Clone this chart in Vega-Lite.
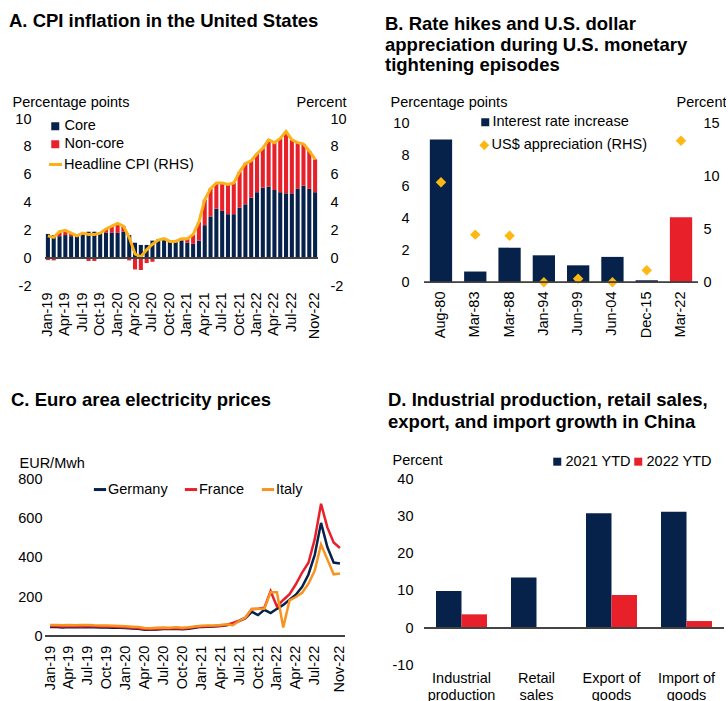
{
  "$schema": "https://vega.github.io/schema/vega-lite/v6.json",
  "background": "white",
  "padding": {"left": 9, "top": 12, "right": 0, "bottom": 0},
  "config": {
    "font": "Liberation Sans",
    "view": {"stroke": null},
    "axis": {"labelFont": "Liberation Sans", "labelFontSize": 14.5, "labelColor": "#000", "titleFont": "Liberation Sans", "titleFontSize": 14.5, "titleFontWeight": "normal", "titleColor": "#000", "grid": false, "ticks": false, "domain": false, "labelOverlap": false, "labelExpr": "replace(datum.label, '\u2212', '-')"},
    "legend": {"labelFont": "Liberation Sans", "labelFontSize": 14.5, "labelColor": "#000", "padding": 0},
    "title": {"font": "Liberation Sans", "fontSize": 18.5, "fontWeight": "bold", "anchor": "start", "color": "#000", "frame": "group"}
  },
  "spacing": 38,
  "resolve": {"scale": {"color": "independent", "shape": "independent", "stroke": "independent"}, "legend": {"color": "independent", "shape": "independent", "stroke": "independent"}},
  "hconcat": [
    {
      "bounds": "flush",
      "spacing": 193.3,
      "resolve": {"scale": {"color": "independent", "shape": "independent", "stroke": "independent"}, "legend": {"color": "independent", "shape": "independent", "stroke": "independent"}},
      "vconcat": [
        {
          "width": 273,
          "height": 167,
          "title": {"text": "A. CPI inflation in the United States", "dx": -36, "offset": 64},
          "data": {"values": [
            {"month": "Jan-19", "Core": 1.74, "Non-core": -0.14, "Headline": 1.6},
            {"month": "Feb-19", "Core": 1.66, "Non-core": -0.16, "Headline": 1.5},
            {"month": "Mar-19", "Core": 1.58, "Non-core": 0.32, "Headline": 1.9},
            {"month": "Apr-19", "Core": 1.66, "Non-core": 0.34, "Headline": 2.0},
            {"month": "May-19", "Core": 1.58, "Non-core": 0.22, "Headline": 1.8},
            {"month": "Jun-19", "Core": 1.66, "Non-core": -0.06, "Headline": 1.6},
            {"month": "Jul-19", "Core": 1.74, "Non-core": 0.06, "Headline": 1.8},
            {"month": "Aug-19", "Core": 1.90, "Non-core": -0.20, "Headline": 1.7},
            {"month": "Sep-19", "Core": 1.90, "Non-core": -0.20, "Headline": 1.7},
            {"month": "Oct-19", "Core": 1.82, "Non-core": -0.02, "Headline": 1.8},
            {"month": "Nov-19", "Core": 1.82, "Non-core": 0.28, "Headline": 2.1},
            {"month": "Dec-19", "Core": 1.82, "Non-core": 0.48, "Headline": 2.3},
            {"month": "Jan-20", "Core": 1.82, "Non-core": 0.68, "Headline": 2.5},
            {"month": "Feb-20", "Core": 1.90, "Non-core": 0.40, "Headline": 2.3},
            {"month": "Mar-20", "Core": 1.66, "Non-core": -0.16, "Headline": 1.5},
            {"month": "Apr-20", "Core": 1.11, "Non-core": -0.81, "Headline": 0.3},
            {"month": "May-20", "Core": 0.95, "Non-core": -0.85, "Headline": 0.1},
            {"month": "Jun-20", "Core": 0.95, "Non-core": -0.35, "Headline": 0.6},
            {"month": "Jul-20", "Core": 1.26, "Non-core": -0.26, "Headline": 1.0},
            {"month": "Aug-20", "Core": 1.34, "Non-core": -0.04, "Headline": 1.3},
            {"month": "Sep-20", "Core": 1.34, "Non-core": 0.06, "Headline": 1.4},
            {"month": "Oct-20", "Core": 1.26, "Non-core": -0.06, "Headline": 1.2},
            {"month": "Nov-20", "Core": 1.26, "Non-core": -0.06, "Headline": 1.2},
            {"month": "Dec-20", "Core": 1.26, "Non-core": 0.14, "Headline": 1.4},
            {"month": "Jan-21", "Core": 1.11, "Non-core": 0.29, "Headline": 1.4},
            {"month": "Feb-21", "Core": 1.03, "Non-core": 0.67, "Headline": 1.7},
            {"month": "Mar-21", "Core": 1.26, "Non-core": 1.34, "Headline": 2.6},
            {"month": "Apr-21", "Core": 2.37, "Non-core": 1.83, "Headline": 4.2},
            {"month": "May-21", "Core": 3.00, "Non-core": 2.00, "Headline": 5.0},
            {"month": "Jun-21", "Core": 3.56, "Non-core": 1.84, "Headline": 5.4},
            {"month": "Jul-21", "Core": 3.40, "Non-core": 2.00, "Headline": 5.4},
            {"month": "Aug-21", "Core": 3.16, "Non-core": 2.14, "Headline": 5.3},
            {"month": "Sep-21", "Core": 3.16, "Non-core": 2.24, "Headline": 5.4},
            {"month": "Oct-21", "Core": 3.63, "Non-core": 2.57, "Headline": 6.2},
            {"month": "Nov-21", "Core": 3.87, "Non-core": 2.93, "Headline": 6.8},
            {"month": "Dec-21", "Core": 4.35, "Non-core": 2.65, "Headline": 7.0},
            {"month": "Jan-22", "Core": 4.74, "Non-core": 2.76, "Headline": 7.5},
            {"month": "Feb-22", "Core": 5.06, "Non-core": 2.84, "Headline": 7.9},
            {"month": "Mar-22", "Core": 5.14, "Non-core": 3.36, "Headline": 8.5},
            {"month": "Apr-22", "Core": 4.90, "Non-core": 3.40, "Headline": 8.3},
            {"month": "May-22", "Core": 4.74, "Non-core": 3.86, "Headline": 8.6},
            {"month": "Jun-22", "Core": 4.66, "Non-core": 4.44, "Headline": 9.1},
            {"month": "Jul-22", "Core": 4.66, "Non-core": 3.84, "Headline": 8.5},
            {"month": "Aug-22", "Core": 4.98, "Non-core": 3.32, "Headline": 8.3},
            {"month": "Sep-22", "Core": 5.21, "Non-core": 2.99, "Headline": 8.2},
            {"month": "Oct-22", "Core": 4.98, "Non-core": 2.72, "Headline": 7.7},
            {"month": "Nov-22", "Core": 4.74, "Non-core": 2.36, "Headline": 7.1}
          ]},
          "layer": [
            {
              "transform": [{"fold": ["Core", "Non-core"], "as": ["series", "value"]}],
              "mark": {"type": "bar"},
              "encoding": {
                "x": {"field": "month", "type": "ordinal", "sort": null, "scale": {"paddingInner": 0.3, "paddingOuter": 0.15},
                  "axis": {"title": null, "labelAngle": -90, "labelPadding": 6, "values": ["Jan-19","Apr-19","Jul-19","Oct-19","Jan-20","Apr-20","Jul-20","Oct-20","Jan-21","Apr-21","Jul-21","Oct-21","Jan-22","Apr-22","Jul-22","Nov-22"]}},
                "y": {"field": "value", "type": "quantitative", "stack": "zero", "scale": {"domain": [-2, 10], "nice": false},
                  "axis": {"values": [-2, 0, 2, 4, 6, 8, 10], "labelOverlap": false, "labelPadding": 14, "title": "Percentage points", "titleAngle": 0, "titleAlign": "left", "titleBaseline": "alphabetic", "titleX": -33, "titleY": -12.5}},
                "order": {"field": "series", "type": "nominal", "sort": "ascending"},
                "color": {"field": "series", "type": "nominal", "scale": {"domain": ["Core", "Non-core"], "range": ["#06224A", "#E8202A"]},
                  "legend": {"title": null, "orient": "none", "legendX": 3, "legendY": 0, "symbolType": "square", "symbolSize": 64, "rowPadding": 3, "labelOffset": 2}}
              }
            },
            {
              "mark": {"type": "line", "strokeWidth": 3},
              "encoding": {
                "x": {"field": "month", "type": "ordinal", "sort": null},
                "y": {"field": "Headline", "type": "quantitative", "scale": {"domain": [-2, 10], "nice": false},
                  "axis": {"orient": "right", "values": [-2, 0, 2, 4, 6, 8, 10], "labelOverlap": false, "labelPadding": 12, "title": "Percent", "titleAngle": 0, "titleAlign": "right", "titleBaseline": "alphabetic", "titleX": 28, "titleY": -12.5}},
                "stroke": {"datum": "Headline CPI (RHS)", "scale": {"range": ["#FBB117"]},
                  "legend": {"title": null, "orient": "none", "legendX": 2, "legendY": 37, "symbolType": "stroke", "symbolSize": 170, "symbolStrokeWidth": 3, "labelOffset": 0}}
              }
            },
            {
              "mark": {"type": "rule", "color": "#444", "strokeWidth": 1},
              "encoding": {"y": {"datum": 0, "scale": {"domain": [-2, 10], "nice": false}, "axis": null}}
            }
          ],
          "resolve": {"scale": {"y": "independent"}}
        },
        {
          "width": 300,
          "height": 157,
          "title": {"text": "C. Euro area electricity prices", "dx": -34, "offset": 46},
          "data": {"values": [
            {"month": "Jan-19", "Germany": 48, "France": 53, "Italy": 58},
            {"month": "Feb-19", "Germany": 47, "France": 52, "Italy": 57},
            {"month": "Mar-19", "Germany": 45, "France": 50, "Italy": 56},
            {"month": "Apr-19", "Germany": 47, "France": 52, "Italy": 58},
            {"month": "May-19", "Germany": 46, "France": 51, "Italy": 56},
            {"month": "Jun-19", "Germany": 46, "France": 50, "Italy": 57},
            {"month": "Jul-19", "Germany": 47, "France": 52, "Italy": 58},
            {"month": "Aug-19", "Germany": 46, "France": 51, "Italy": 56},
            {"month": "Sep-19", "Germany": 45, "France": 50, "Italy": 55},
            {"month": "Oct-19", "Germany": 45, "France": 50, "Italy": 55},
            {"month": "Nov-19", "Germany": 44, "France": 49, "Italy": 54},
            {"month": "Dec-19", "Germany": 43, "France": 48, "Italy": 53},
            {"month": "Jan-20", "Germany": 42, "France": 46, "Italy": 51},
            {"month": "Feb-20", "Germany": 40, "France": 44, "Italy": 49},
            {"month": "Mar-20", "Germany": 38, "France": 42, "Italy": 47},
            {"month": "Apr-20", "Germany": 34, "France": 37, "Italy": 42},
            {"month": "May-20", "Germany": 33, "France": 36, "Italy": 41},
            {"month": "Jun-20", "Germany": 35, "France": 38, "Italy": 43},
            {"month": "Jul-20", "Germany": 37, "France": 40, "Italy": 45},
            {"month": "Aug-20", "Germany": 37, "France": 40, "Italy": 44},
            {"month": "Sep-20", "Germany": 39, "France": 42, "Italy": 46},
            {"month": "Oct-20", "Germany": 36, "France": 39, "Italy": 43},
            {"month": "Nov-20", "Germany": 39, "France": 42, "Italy": 46},
            {"month": "Dec-20", "Germany": 44, "France": 47, "Italy": 50},
            {"month": "Jan-21", "Germany": 48, "France": 50, "Italy": 54},
            {"month": "Feb-21", "Germany": 49, "France": 51, "Italy": 55},
            {"month": "Mar-21", "Germany": 50, "France": 52, "Italy": 55},
            {"month": "Apr-21", "Germany": 52, "France": 54, "Italy": 57},
            {"month": "May-21", "Germany": 56, "France": 58, "Italy": 61},
            {"month": "Jun-21", "Germany": 65, "France": 68, "Italy": 56},
            {"month": "Jul-21", "Germany": 78, "France": 80, "Italy": 78},
            {"month": "Aug-21", "Germany": 92, "France": 95, "Italy": 95},
            {"month": "Sep-21", "Germany": 125, "France": 138, "Italy": 140},
            {"month": "Oct-21", "Germany": 108, "France": 140, "Italy": 140},
            {"month": "Nov-21", "Germany": 135, "France": 145, "Italy": 140},
            {"month": "Dec-21", "Germany": 118, "France": 230, "Italy": 225},
            {"month": "Jan-22", "Germany": 140, "France": 152, "Italy": 225},
            {"month": "Feb-22", "Germany": 160, "France": 185, "Italy": 45},
            {"month": "Mar-22", "Germany": 186, "France": 215, "Italy": 183},
            {"month": "Apr-22", "Germany": 212, "France": 265, "Italy": 200},
            {"month": "May-22", "Germany": 252, "France": 325, "Italy": 222},
            {"month": "Jun-22", "Germany": 315, "France": 375, "Italy": 268},
            {"month": "Jul-22", "Germany": 415, "France": 495, "Italy": 335},
            {"month": "Aug-22", "Germany": 578, "France": 675, "Italy": 468},
            {"month": "Sep-22", "Germany": 455, "France": 555, "Italy": 392},
            {"month": "Oct-22", "Germany": 376, "France": 478, "Italy": 316},
            {"month": "Nov-22", "Germany": 371, "France": 450, "Italy": 320}
          ]},
          "layer": [
            {
              "transform": [{"fold": ["Germany", "France", "Italy"], "as": ["country", "price"]}],
              "mark": {"type": "line", "strokeWidth": 2.5},
              "encoding": {
                "x": {"field": "month", "type": "ordinal", "sort": null, "scale": {"padding": 0.8},
                  "axis": {"title": null, "labelAngle": -90, "labelPadding": 9, "values": ["Jan-19","Apr-19","Jul-19","Oct-19","Jan-20","Apr-20","Jul-20","Oct-20","Jan-21","Apr-21","Jul-21","Oct-21","Jan-22","Apr-22","Jul-22","Nov-22"]}},
                "y": {"field": "price", "type": "quantitative", "scale": {"domain": [0, 800], "nice": false},
                  "axis": {"values": [0, 200, 400, 600, 800], "labelOverlap": false, "labelPadding": 3, "title": "EUR/Mwh", "titleAngle": 0, "titleAlign": "left", "titleBaseline": "alphabetic", "titleX": -26, "titleY": -12}},
                "color": {"field": "country", "type": "nominal", "scale": {"domain": ["Germany", "France", "Italy"], "range": ["#06224A", "#E8202A", "#F7931E"]},
                  "legend": {"title": null, "orient": "none", "direction": "horizontal", "legendX": 47, "legendY": 2, "symbolType": "stroke", "symbolSize": 150, "symbolStrokeWidth": 3, "labelOffset": 0, "columnPadding": 10}}
              }
            },
            {
              "mark": {"type": "rule", "color": "#444", "strokeWidth": 1},
              "encoding": {"y": {"datum": 0, "scale": {"domain": [0, 800], "nice": false}, "axis": null}}
            }
          ],
          "resolve": {"scale": {"y": "independent"}}
        }
      ]
    },
    {
      "bounds": "flush",
      "spacing": 193.3,
      "resolve": {"scale": {"color": "independent", "shape": "independent", "stroke": "independent"}, "legend": {"color": "independent", "shape": "independent", "stroke": "independent"}},
      "vconcat": [
        {
          "width": 274,
          "height": 167,
          "title": {"text": ["B. Rate hikes and U.S. dollar", "appreciation during U.S. monetary", "tightening episodes"], "dx": -39, "offset": 20, "lineHeight": 20.3},
          "data": {"values": [
            {"episode": "Aug-80", "rate": 8.98, "usd": 9.45, "group": "Interest rate increase"},
            {"episode": "Mar-83", "rate": 0.68, "usd": 4.5, "group": "Interest rate increase"},
            {"episode": "Mar-88", "rate": 2.18, "usd": 4.4, "group": "Interest rate increase"},
            {"episode": "Jan-94", "rate": 1.7, "usd": 0.0, "group": "Interest rate increase"},
            {"episode": "Jun-99", "rate": 1.07, "usd": 0.33, "group": "Interest rate increase"},
            {"episode": "Jun-04", "rate": 1.6, "usd": 0.0, "group": "Interest rate increase"},
            {"episode": "Dec-15", "rate": 0.13, "usd": 1.15, "group": "Interest rate increase"},
            {"episode": "Mar-22", "rate": 4.1, "usd": 13.35, "group": "Current episode"}
          ]},
          "layer": [
            {
              "mark": {"type": "bar"},
              "encoding": {
                "x": {"field": "episode", "type": "ordinal", "sort": null, "scale": {"paddingInner": 0.35, "paddingOuter": 0.17},
                  "axis": {"title": null, "labelAngle": -90, "labelPadding": 5}},
                "y": {"field": "rate", "type": "quantitative", "scale": {"domain": [-0.23, 10.27], "nice": false, "zero": false},
                  "axis": {"values": [0, 2, 4, 6, 8, 10], "labelOverlap": false, "labelPadding": 15, "title": "Percentage points", "titleAngle": 0, "titleAlign": "left", "titleBaseline": "alphabetic", "titleX": -34, "titleY": -12.5}},
                "color": {"field": "group", "type": "nominal", "scale": {"domain": ["Interest rate increase", "Current episode"], "range": ["#06224A", "#E8202A"]},
                  "legend": {"title": null, "values": ["Interest rate increase"], "orient": "none", "legendX": 54, "legendY": -4, "symbolType": "square", "symbolSize": 64, "labelOffset": 0}}
              }
            },
            {
              "mark": {"type": "point", "shape": "diamond", "filled": true, "size": 110, "color": "#FDB813", "opacity": 1},
              "encoding": {
                "x": {"field": "episode", "type": "ordinal", "sort": null},
                "y": {"field": "usd", "type": "quantitative", "scale": {"domain": [-0.345, 15.405], "nice": false, "zero": false},
                  "axis": {"orient": "right", "values": [0, 5, 10, 15], "labelOverlap": false, "labelPadding": 5, "title": "Percent", "titleAngle": 0, "titleAlign": "right", "titleBaseline": "alphabetic", "titleX": 28, "titleY": -12.5}},
                "shape": {"datum": "US$ appreciation (RHS)", "scale": {"range": ["diamond"]},
                  "legend": {"title": null, "orient": "none", "legendX": 53, "legendY": 19, "symbolSize": 100, "symbolFillColor": "#FDB813", "symbolStrokeColor": "#FDB813", "labelOffset": 0}}
              }
            },
            {
              "mark": {"type": "rule", "color": "#444", "strokeWidth": 1},
              "encoding": {"y": {"datum": 0, "scale": {"domain": [-0.23, 10.27], "nice": false, "zero": false}, "axis": null}}
            }
          ],
          "resolve": {"scale": {"y": "independent"}}
        },
        {
          "width": 300,
          "height": 186,
          "title": {"text": ["D. Industrial production, retail sales,", "export, and import growth in China"], "dx": -36, "offset": 21, "lineHeight": 21.5},
          "data": {"values": [
            {"category": "Industrial production", "period": "2021 YTD", "growth": 10.0},
            {"category": "Industrial production", "period": "2022 YTD", "growth": 3.7},
            {"category": "Retail sales", "period": "2021 YTD", "growth": 13.6},
            {"category": "Retail sales", "period": "2022 YTD", "growth": -0.1},
            {"category": "Export of goods", "period": "2021 YTD", "growth": 30.9},
            {"category": "Export of goods", "period": "2022 YTD", "growth": 8.9},
            {"category": "Import of goods", "period": "2021 YTD", "growth": 31.3},
            {"category": "Import of goods", "period": "2022 YTD", "growth": 1.9}
          ]},
          "layer": [
            {
              "mark": {"type": "bar"},
              "encoding": {
                "x": {"field": "category", "type": "nominal", "sort": null, "scale": {"paddingInner": 0.32, "paddingOuter": 0.16},
                  "axis": {"title": null, "labelAngle": 0, "labelPadding": 6, "labelBaseline": "top", "labelLineHeight": 17,
                    "labelExpr": "datum.value == 'Industrial production' ? ['Industrial', 'production'] : datum.value == 'Retail sales' ? ['Retail', 'sales'] : datum.value == 'Export of goods' ? ['Export of', 'goods'] : ['Import of', 'goods']"}},
                "xOffset": {"field": "period", "type": "nominal", "scale": {"paddingInner": 0}},
                "y": {"field": "growth", "type": "quantitative", "scale": {"domain": [-10, 40], "nice": false},
                  "axis": {"values": [-10, 0, 10, 20, 30, 40], "labelOverlap": false, "labelPadding": 11, "title": "Percent", "titleAngle": 0, "titleAlign": "left", "titleBaseline": "alphabetic", "titleX": -32, "titleY": -15}},
                "color": {"field": "period", "type": "nominal", "scale": {"domain": ["2021 YTD", "2022 YTD"], "range": ["#06224A", "#E8202A"]},
                  "legend": {"title": null, "orient": "none", "direction": "horizontal", "legendX": 126, "legendY": -25, "symbolType": "square", "symbolSize": 64, "labelOffset": 1, "columnPadding": 0}}
              }
            },
            {
              "mark": {"type": "rule", "color": "#444", "strokeWidth": 1},
              "encoding": {"y": {"datum": 0, "scale": {"domain": [-10, 40], "nice": false}, "axis": null}}
            }
          ],
          "resolve": {"scale": {"y": "independent"}}
        }
      ]
    }
  ]
}
